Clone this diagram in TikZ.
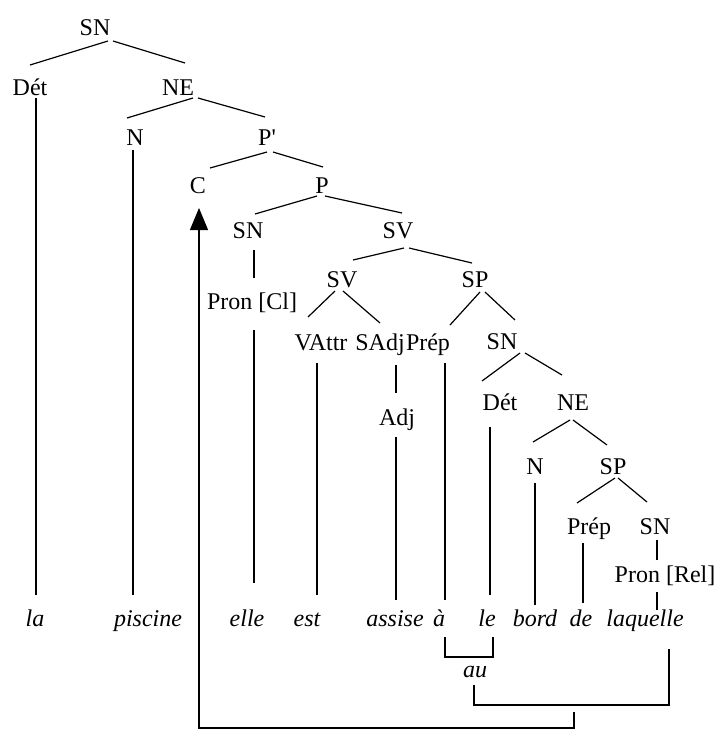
\documentclass[tikz,border=0pt]{standalone}
\usepackage{fontspec}
\setmainfont{Liberation Serif}
\usetikzlibrary{arrows.meta}

\tikzset{
  lab/.style={font=\fontsize{24}{28}\selectfont, inner sep=0pt, anchor=base},
  wd/.style={font=\fontsize{24}{28}\selectfont\itshape, inner sep=0pt, anchor=base},
  br/.style={line width=1.2pt},
  mv/.style={line width=1.2pt, -{Triangle[length=22pt,width=18pt]}}
}

\begin{document}
\begin{tikzpicture}[x=1pt, y=-1pt, line width=1.2pt]
\useasboundingbox (0,0) rectangle (717,734);

% category labels
\node[lab] (sn0)  at (95,35)  {SN};
\node[lab] (det0) at (30,95)  {Dét};
\node[lab] (ne0)  at (178,95) {NE};
\node[lab] (n0)   at (135,145) {N};
\node[lab] (pp)   at (267,145) {P\textquotesingle};
\node[lab] (c)    at (198,193) {C};
\node[lab] (p)    at (322,193) {P};
\node[lab] (sn1)  at (248,238) {SN};
\node[lab] (sv1)  at (398,238) {SV};
\node[lab] (pcl)  at (252,309) {Pron [Cl]};
\node[lab] (sv2)  at (342,287) {SV};
\node[lab] (sp1)  at (475,287) {SP};
\node[lab] (vattr) at (321,350) {VAttr};
\node[lab] (sadj) at (380,350) {SAdj};
\node[lab] (prep1) at (428,350) {Prép};
\node[lab] (sn3)  at (502,349) {SN};
\node[lab] (adj)  at (397,425) {Adj};
\node[lab] (det3) at (500,410) {Dét};
\node[lab] (ne3)  at (573,410) {NE};
\node[lab] (n3)   at (535,474) {N};
\node[lab] (sp3)  at (613,474) {SP};
\node[lab] (prep3) at (589,534) {Prép};
\node[lab] (sn4)  at (655,534) {SN};
\node[lab] (prel) at (665,582) {Pron [Rel]};

% words
\node[wd] (wla)   at (35,626)  {la};
\node[wd] (wpisc) at (148,626) {piscine};
\node[wd] (welle) at (247,626) {elle};
\node[wd] (west)  at (307,626) {est};
\node[wd] (wass)  at (395,626) {assise};
\node[wd] (wa)    at (439,626) {à};
\node[wd] (wle)   at (487,626) {le};
\node[wd] (wbord) at (535,626) {bord};
\node[wd] (wde)   at (581,626) {de};
\node[wd] (wlaq)  at (645,626) {laquelle};
\node[wd] (au)    at (475,677) {au};

% branches
\draw ([shift={(13,6)}]sn0.base) -- ([shift={(0,-30)}]det0.base);
\draw ([shift={(18,6)}]sn0.base) -- ([shift={(7,-32)}]ne0.base);
\draw ([shift={(15,3)}]ne0.base) -- ([shift={(-8,-27)}]n0.base);
\draw ([shift={(20,3)}]ne0.base) -- ([shift={(-2,-28)}]pp.base);
\draw ([shift={(0,7)}]pp.base) -- ([shift={(12,-25)}]c.base);
\draw ([shift={(6,7)}]pp.base) -- ([shift={(1,-26)}]p.base);
\draw ([shift={(-5,3)}]p.base) -- ([shift={(7,-24)}]sn1.base);
\draw ([shift={(3,3)}]p.base) -- ([shift={(4,-25)}]sv1.base);
\draw ([shift={(6,12)}]sn1.base) -- ([shift={(2,-31)}]pcl.base);
\draw ([shift={(6,10)}]sv1.base) -- ([shift={(11,-27)}]sv2.base);
\draw ([shift={(11,10)}]sv1.base) -- ([shift={(-3,-24)}]sp1.base);
\draw ([shift={(-7,4)}]sv2.base) -- ([shift={(-13,-33)}]vattr.base);
\draw ([shift={(1,4)}]sv2.base) -- ([shift={(0,-27)}]sadj.base);
\draw ([shift={(5,5)}]sp1.base) -- ([shift={(22,-25)}]prep1.base);
\draw ([shift={(10,5)}]sp1.base) -- ([shift={(13,-29)}]sn3.base);
\draw ([shift={(16,15)}]sadj.base) -- ([shift={(-1,-32)}]adj.base);
\draw ([shift={(18,4)}]sn3.base) -- ([shift={(-18,-29)}]det3.base);
\draw ([shift={(23,4)}]sn3.base) -- ([shift={(-11,-35)}]ne3.base);
\draw ([shift={(-3,10)}]ne3.base) -- ([shift={(-2,-32)}]n3.base);
\draw ([shift={(0,10)}]ne3.base) -- ([shift={(-6,-29)}]sp3.base);
\draw ([shift={(2,4)}]sp3.base) -- ([shift={(-12,-31)}]prep3.base);
\draw ([shift={(5,4)}]sp3.base) -- ([shift={(-8,-32)}]sn4.base);
\draw ([shift={(2,6)}]sn4.base) -- ([shift={(-8,-22)}]prel.base);

% lines down to the words
\draw ([shift={(6,3)}]det0.base) -- ([shift={(1,-31)}]wla.base);
\draw ([shift={(-2,5)}]n0.base) -- ([shift={(-15,-31)}]wpisc.base);
\draw ([shift={(2,21)}]pcl.base) -- ([shift={(7,-43)}]welle.base);
\draw ([shift={(-4,13)}]vattr.base) -- ([shift={(10,-31)}]west.base);
\draw ([shift={(-1,12)}]adj.base) -- ([shift={(1,-26)}]wass.base);
\draw ([shift={(17,13)}]prep1.base) -- ([shift={(6,-26)}]wa.base);
\draw ([shift={(-10,17)}]det3.base) -- ([shift={(3,-31)}]wle.base);
\draw ([shift={(0,9)}]n3.base) -- ([shift={(0,-21)}]wbord.base);
\draw ([shift={(-6,9)}]prep3.base) -- ([shift={(2,-23)}]wde.base);
\draw ([shift={(-8,10)}]prel.base) -- ([shift={(12,-16)}]wlaq.base);

% contraction brackets
\draw[br] ([shift={(6,11)}]wa.base) -- ++(0,20) -| ([shift={(6,11)}]wle.base);
\draw[br] ([shift={(-1,8)}]au.base) -- ++(0,20) -| ([shift={(24,23)}]wlaq.base);

% movement of the relative pronoun to C
\coordinate (mvstart) at (574,712);
\draw[mv] (mvstart) -- ++(0,16) -| ([shift={(1,15)}]c.base);
\end{tikzpicture}
\end{document}
